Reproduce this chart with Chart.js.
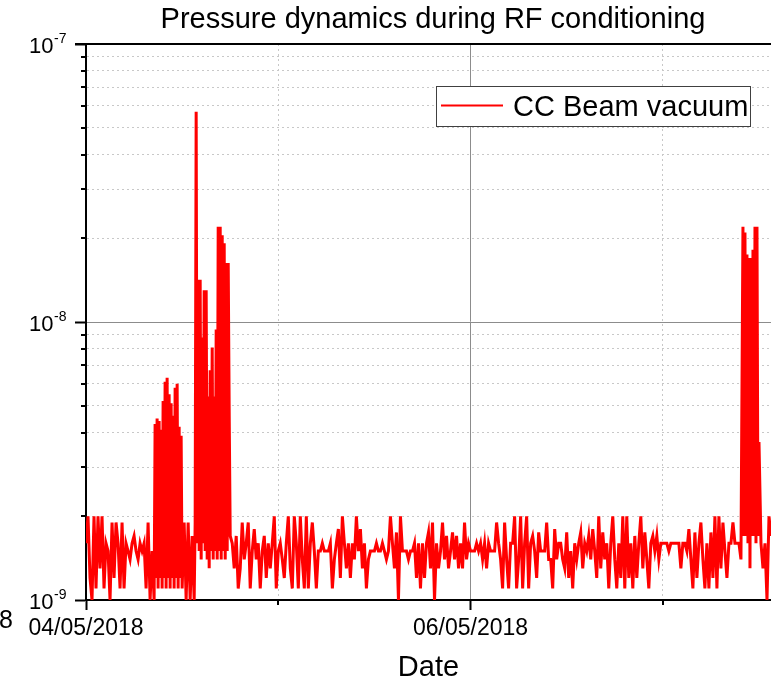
<!DOCTYPE html>
<html>
<head>
<meta charset="utf-8">
<title>Pressure dynamics during RF conditioning</title>
<script src="https://cdn.jsdelivr.net/npm/chart.js@4.4.1/dist/chart.umd.min.js"></script>
<style>
  html, body { margin: 0; padding: 0; background: #fff; }
</style>
</head>
<body>
<canvas id="pressureChart" width="771" height="685"></canvas>
<script>
// CC beam vacuum readings (units of 1e-9), hours counted from 04/05/2018 00:00.
// Logging runs every 15 min, and every 7.5 min while RF conditioning bursts are on.
const quietA = [
    1.6, 2.0, 1.2, 1.0, 2.0, 1.1, 2.0, 1.3, 2.0, 1.1, 1.6, 1.5, 1.0, 1.9, 1.2, 1.9, 1.6, 1.1, 1.9, 1.1, 1.6, 1.5, 1.4, 1.6,
    1.7, 1.5, 1.4, 1.6, 1.5, 1.6, 1.1, 1.9, 1.0, 1.5
];
const burstA = [
    1.0, 4.3, 1.2, 4.5, 1.1, 4.4, 1.2, 4.1, 1.1, 5.2, 1.2, 6.1, 1.1, 6.3, 1.2, 5.5, 1.1, 5.1, 1.2, 4.6,
    1.1, 5.8, 1.2, 6.0, 1.1, 4.2, 1.2, 3.9, 1.1
];
const quietB = [1.9, 1.0, 1.9, 1.0, 1.7, 1.0];
const burstB = [
    1.9, 57, 1.6, 14.2, 1.5, 14.2, 1.4, 8.8, 1.6, 13.0, 1.5, 13.0, 1.4, 5.4, 1.3, 6.7, 1.5, 8.1,
    1.4, 5.4, 1.5, 9.4, 1.4, 22, 1.5, 22, 1.4, 20.5, 1.5, 19.2, 1.4, 16.3, 1.5, 16.3, 4.6
];
const quietC = [
    1.7, 1.6, 1.3, 1.7, 1.1, 1.3, 1.9, 1.4, 1.6, 1.9, 1.1, 1.5, 1.8, 1.4, 1.6, 1.1, 1.5, 1.7, 1.2, 1.6, 1.3, 1.6, 2.0, 1.1,
    1.5, 1.6, 1.4, 1.2, 1.6, 2.0, 1.3, 1.1, 2.0, 1.6, 1.1, 2.0, 1.4, 1.1, 2.0, 1.1, 1.6, 1.9, 1.5, 1.1, 1.5, 1.5, 1.6, 1.5,
    1.5, 1.5, 1.6, 1.1, 1.4, 1.6, 1.8, 1.2, 2.0, 1.6, 1.3, 1.6, 1.2, 1.6, 1.4, 2.0, 1.5, 1.8, 1.3, 1.6, 1.1, 1.4, 1.5, 1.5,
    1.5, 1.6, 1.5, 1.5, 1.6, 1.5, 1.4, 1.5, 2.0, 1.6, 1.3, 1.75, 1.0, 2.0, 1.5, 1.5, 1.5, 1.4, 1.5, 1.5, 1.6, 1.2, 1.6, 1.1,
    1.6, 1.2, 1.6, 1.75, 1.3, 1.9, 1.0, 1.6, 1.3, 1.5, 1.9, 1.4, 1.7, 1.3, 1.5, 1.75, 1.4, 1.7, 1.3, 1.6, 1.3, 1.9, 1.4, 1.6,
    1.5, 1.5, 1.5, 1.6, 1.5, 1.6, 1.4, 1.6, 1.3, 1.6, 1.5, 1.5, 1.5, 1.9, 1.6, 1.4, 1.1, 1.9, 1.4, 1.1, 1.6, 1.6, 2.0, 1.1,
    1.4, 2.0, 1.1, 1.6, 2.0, 1.1, 1.6, 1.7, 1.5, 1.2, 1.75, 1.5, 1.5, 1.5, 1.9, 1.4, 1.4, 1.1, 1.8, 1.4, 1.6, 1.6, 1.4, 1.3,
    1.75, 1.2, 1.5, 1.1, 1.6, 1.4, 1.6, 1.75, 1.3, 1.6, 1.5, 1.7, 1.4, 1.8, 1.5, 1.2, 2.0, 1.3, 1.75, 1.4, 1.6, 1.1, 1.6, 2.0,
    1.4, 1.1, 1.6, 1.2, 2.0, 1.1, 2.0, 1.2, 1.6, 1.1, 1.7, 1.2, 1.6, 2.0, 1.3, 1.75, 1.4, 1.1, 1.6, 1.7, 1.5, 1.7, 1.4, 1.6,
    1.6, 1.6, 1.6, 1.5, 1.6, 1.6, 1.6, 1.6, 1.6, 1.3, 1.6, 1.6, 1.5, 1.8, 1.4, 1.1, 1.75, 1.2, 1.6, 1.9, 1.4, 1.1, 1.6, 1.1,
    1.75, 1.2, 2.0, 1.1, 2.0, 1.3, 1.9, 1.5, 1.2, 1.6, 1.6, 1.9, 1.6, 1.6, 1.6, 1.4
];
const burstC = [22, 1.7, 21, 1.7, 17.5, 1.6, 17, 1.3, 17, 1.7, 18.2, 1.7, 22, 1.6, 22, 1.7, 3.7];
const quietD = [1.6, 1.3, 1.6, 1.0, 2.0, 1.7];

// when each logging run starts (hours) and its sampling step (hours)
const runStartHours = [0, 8.5, 12.25, 13.625, 18, 82, 84.25];
const runStepHours = [0.25, 0.125, 0.25, 0.125, 0.25, 0.125, 0.25];
const runValues = [quietA, burstA, quietB, burstB, quietC, burstC, quietD];

const xTickHours = [0, 24, 48, 72];
const xTickLabels = ['04/05/2018', '', '06/05/2018', ''];
const yTickValues = [1, 2, 3, 4, 5, 6, 7, 8, 9, 10, 20, 30, 40, 50, 60, 70, 80, 90, 100];
const yMajorValues = [1, 10, 100];
const yMajorExponents = ['-9', '-8', '-7'];

const FONT = "'Liberation Sans', Arial, sans-serif";
const GRID_MAJOR = '#8c8c8c';
const GRID_MINOR = '#c8c8c8';
const NONE = 'rgba(0,0,0,0)';

const isMajorY = v => yMajorValues.indexOf(v) >= 0;
const isMajorX = v => xTickLabels[xTickHours.indexOf(v)] !== '';

const beamPoints = [];
runValues.forEach((run, r) => {
    run.forEach((v, i) => beamPoints.push({ x: runStartHours[r] + i * runStepHours[r], y: v }));
});

// frame, minor ticks, log labels, title and legend
const frameAndLabels = {
    id: 'frameAndLabels',
    afterDraw(chart) {
        const { ctx, chartArea: area, scales: { x, y } } = chart;
        ctx.save();
        ctx.strokeStyle = '#000';
        ctx.lineWidth = 2;
        ctx.beginPath();
        ctx.moveTo(75, area.top);
        ctx.lineTo(area.right, area.top);
        y.ticks.forEach(t => {
            if (t.major) return;
            const py = Math.round(y.getPixelForValue(t.value));
            ctx.moveTo(area.left - 5, py);
            ctx.lineTo(area.left, py);
        });
        x.ticks.forEach(t => {
            if (isMajorX(t.value)) return;
            const px = Math.round(x.getPixelForValue(t.value));
            ctx.moveTo(px, area.bottom);
            ctx.lineTo(px, area.bottom + 5);
        });
        ctx.stroke();

        ctx.fillStyle = '#000';
        ctx.textBaseline = 'alphabetic';
        yMajorValues.forEach((v, i) => {
            const py = y.getPixelForValue(v);
            ctx.font = '22px ' + FONT;
            ctx.textAlign = 'right';
            ctx.fillText('10', 53.5, py + 9);
            ctx.font = '14px ' + FONT;
            ctx.textAlign = 'left';
            ctx.fillText(yMajorExponents[i], 54, py - 1);
        });

        ctx.font = '29px ' + FONT;
        ctx.textAlign = 'center';
        ctx.fillText('Pressure dynamics during RF conditioning', 433, 28);

        ctx.font = '25px ' + FONT;
        ctx.textAlign = 'left';
        ctx.fillText('8', -1, 628);

        // legend
        const ds = chart.data.datasets[0];
        ctx.fillStyle = '#fff';
        ctx.fillRect(436, 86, 314, 40);
        ctx.strokeStyle = '#404040';
        ctx.lineWidth = 1;
        ctx.strokeRect(436.5, 86.5, 314, 40);
        ctx.strokeStyle = ds.borderColor;
        ctx.lineWidth = 2;
        ctx.beginPath();
        ctx.moveTo(441, 105.5);
        ctx.lineTo(503, 105.5);
        ctx.stroke();
        ctx.fillStyle = '#000';
        ctx.font = '29px ' + FONT;
        ctx.fillText(ds.label, 513, 116);
        ctx.restore();
    }
};

const pressureCtx = document.getElementById('pressureChart').getContext('2d');
const pressureChart = new Chart(pressureCtx, {
    type: 'line',
    data: {
        datasets: [{
            label: 'CC Beam vacuum',
            data: beamPoints,
            borderColor: '#ff0000',
            borderWidth: 3,
            pointRadius: 0,
            tension: 0
        }]
    },
    options: {
        responsive: false,
        animation: false,
        devicePixelRatio: 1,
        layout: { padding: { top: 44, left: 0, right: 0, bottom: 0 } },
        plugins: {
            legend: { display: false },
            tooltip: { enabled: false },
            title: { display: false }
        },
        scales: {
            x: {
                type: 'linear',
                min: 0,
                max: 85.5,
                afterFit: s => { s.height = 85; },
                afterBuildTicks: s => { s.ticks = xTickHours.map(v => ({ value: v })); },
                ticks: {
                    autoSkip: false,
                    maxRotation: 0,
                    padding: 5,
                    color: '#000',
                    font: { family: FONT, size: 23 },
                    callback: (v, i) => xTickLabels[i]
                },
                grid: {
                    color: c => !c.tick || c.tick.value === 0 ? NONE : (isMajorX(c.tick.value) ? GRID_MAJOR : GRID_MINOR),
                    lineWidth: 1,
                    tickLength: 10,
                    tickWidth: 2,
                    tickColor: c => c.tick && isMajorX(c.tick.value) ? '#000' : NONE
                },
                border: {
                    color: '#000',
                    width: 2,
                    dash: c => c.tick && !isMajorX(c.tick.value) ? [2, 3] : []
                },
                title: {
                    display: true,
                    text: 'Date',
                    color: '#000',
                    font: { family: FONT, size: 29 },
                    padding: 0
                }
            },
            y: {
                type: 'logarithmic',
                min: 1,
                max: 100,
                afterFit: s => { s.width = 86; },
                afterBuildTicks: s => { s.ticks = yTickValues.map(v => ({ value: v, major: isMajorY(v) })); },
                ticks: { display: false },
                grid: {
                    color: c => !c.tick || c.tick.value === 1 || c.tick.value === 100 ? NONE : (isMajorY(c.tick.value) ? GRID_MAJOR : GRID_MINOR),
                    lineWidth: 1,
                    tickLength: 11,
                    tickWidth: 2,
                    tickColor: c => c.tick && isMajorY(c.tick.value) ? '#000' : NONE
                },
                border: {
                    color: '#000',
                    width: 2,
                    dash: c => c.tick && !isMajorY(c.tick.value) ? [2, 3] : []
                }
            }
        }
    },
    plugins: [frameAndLabels]
});
</script>
</body>
</html>
